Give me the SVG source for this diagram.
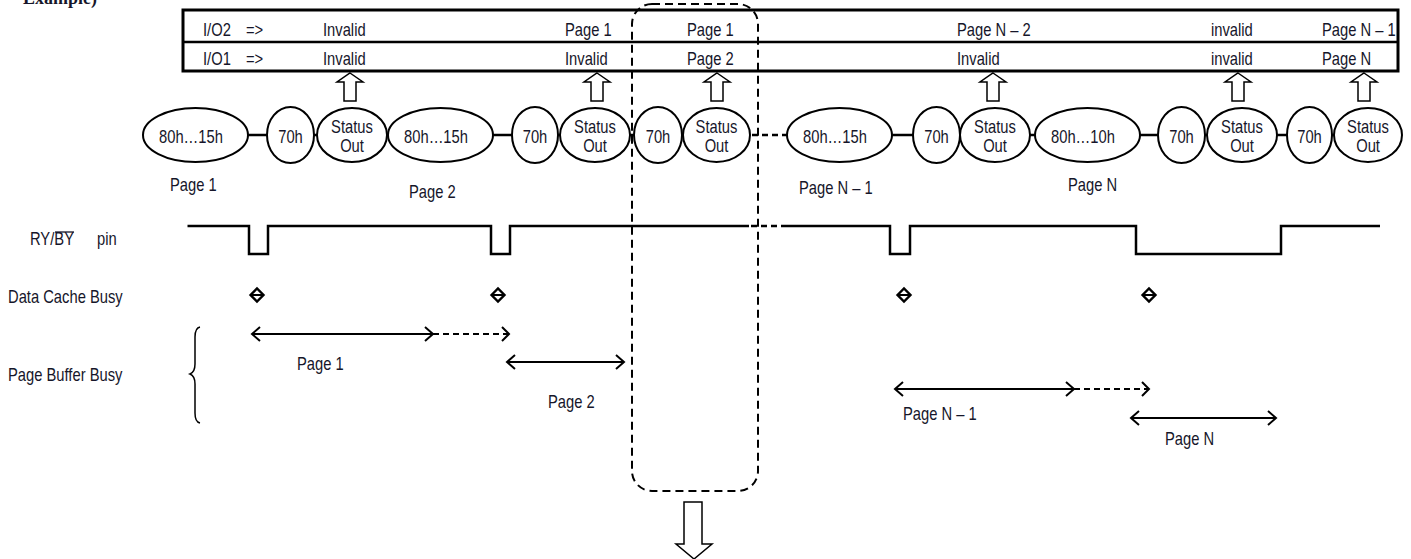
<svg xmlns="http://www.w3.org/2000/svg" width="1411" height="559" viewBox="0 0 1411 559">
<style>
text{font-family:"Liberation Sans",Arial,sans-serif;font-size:18px;fill:#16162a;transform-box:fill-box;transform-origin:0% 50%;transform:scaleX(0.82)}
text.c{text-anchor:middle;transform-origin:50% 50%}
text.ser{font-family:"Liberation Serif",serif;font-weight:bold;transform:none}
.el{fill:#fff;stroke:#000;stroke-width:2}
.ln{fill:none;stroke:#000;stroke-width:2.5}
.dl{fill:none;stroke:#000;stroke-width:2.5;stroke-dasharray:6 4}
.ar{fill:none;stroke:#000;stroke-width:2}
.ad{fill:none;stroke:#000;stroke-width:2;stroke-dasharray:6 4}
.hd{fill:none;stroke:#000;stroke-width:2;stroke-linejoin:miter}
.ha{fill:#fff;stroke:#000;stroke-width:1.5}
.dm{fill:#fff;stroke:#000;stroke-width:2.4}
</style>
<defs>
<path id="upar" d="M0,73 L13,82 L6,82 L6,101 L-6,101 L-6,82 L-13,82 Z" class="ha"/>
<g id="dia"><polygon points="-6.5,0 0,-6.5 6.5,0 0,6.5" class="dm"/><line x1="-6" y1="0" x2="6" y2="0" stroke="#000" stroke-width="2"/></g>
</defs>

<text class="ser" x="23" y="4">Example)</text>

<g id="io-table">
<rect x="183" y="10" width="1215" height="61" fill="none" stroke="#000" stroke-width="3"/>
<line x1="183" y1="42" x2="1398" y2="42" stroke="#000" stroke-width="2.5"/>
<text x="203" y="36">I/O2</text><text x="246" y="36">=&gt;</text>
<text x="323" y="36">Invalid</text><text x="565" y="36">Page 1</text><text x="687" y="36">Page 1</text>
<text x="957" y="36">Page N – 2</text><text x="1211" y="36">invalid</text><text x="1322" y="36">Page N – 1</text>
<text x="203" y="65">I/O1</text><text x="246" y="65">=&gt;</text>
<text x="323" y="65">Invalid</text><text x="565" y="65">Invalid</text><text x="687" y="65">Page 2</text>
<text x="957" y="65">Invalid</text><text x="1211" y="65">invalid</text><text x="1322" y="65">Page N</text>
</g>

<g id="connectors">
<line x1="248" y1="135" x2="750" y2="135" class="ln"/>
<line x1="752" y1="135" x2="787" y2="135" class="dl"/>
<line x1="892" y1="135" x2="1334" y2="135" class="ln"/>
<use href="#upar" x="350"/><use href="#upar" x="597"/><use href="#upar" x="717"/>
<use href="#upar" x="993"/><use href="#upar" x="1238"/><use href="#upar" x="1364"/>
</g>

<g id="n1"><ellipse cx="195.5" cy="135" rx="52.5" ry="27" class="el"/><text x="191" y="143" class="c">80h…15h</text></g>
<g id="n2"><ellipse cx="290.5" cy="135" rx="23.5" ry="28" class="el"/><text x="290.5" y="143" class="c">70h</text></g>
<g id="n3"><ellipse cx="352" cy="135" rx="35" ry="27" class="el"/><text x="352" y="133" class="c">Status</text><text x="352" y="152" class="c">Out</text></g>
<g id="n4"><ellipse cx="440.5" cy="135" rx="52.5" ry="27" class="el"/><text x="436" y="143" class="c">80h…15h</text></g>
<g id="n5"><ellipse cx="535" cy="135" rx="23" ry="28" class="el"/><text x="535" y="143" class="c">70h</text></g>
<g id="n6"><ellipse cx="595" cy="135" rx="35" ry="27" class="el"/><text x="595" y="133" class="c">Status</text><text x="595" y="152" class="c">Out</text></g>
<g id="n7"><ellipse cx="658" cy="135" rx="24" ry="28" class="el"/><text x="658" y="143" class="c">70h</text></g>
<g id="n8"><ellipse cx="716.5" cy="135" rx="33.5" ry="27" class="el"/><text x="716.5" y="133" class="c">Status</text><text x="716.5" y="152" class="c">Out</text></g>
<g id="n9"><ellipse cx="839.5" cy="135" rx="52.5" ry="27" class="el"/><text x="835" y="143" class="c">80h…15h</text></g>
<g id="n10"><ellipse cx="936.5" cy="135" rx="23.5" ry="28" class="el"/><text x="936.5" y="143" class="c">70h</text></g>
<g id="n11"><ellipse cx="995" cy="135" rx="35" ry="27" class="el"/><text x="995" y="133" class="c">Status</text><text x="995" y="152" class="c">Out</text></g>
<g id="n12"><ellipse cx="1087.5" cy="135" rx="52.5" ry="27" class="el"/><text x="1083" y="143" class="c">80h…10h</text></g>
<g id="n13"><ellipse cx="1181.5" cy="135" rx="23.5" ry="28" class="el"/><text x="1181.5" y="143" class="c">70h</text></g>
<g id="n14"><ellipse cx="1242" cy="135" rx="35" ry="27" class="el"/><text x="1242" y="133" class="c">Status</text><text x="1242" y="152" class="c">Out</text></g>
<g id="n15"><ellipse cx="1309.5" cy="135" rx="22.5" ry="28" class="el"/><text x="1309.5" y="143" class="c">70h</text></g>
<g id="n16"><ellipse cx="1368" cy="135" rx="34" ry="27" class="el"/><text x="1368" y="133" class="c">Status</text><text x="1368" y="152" class="c">Out</text></g>

<g id="page-labels">
<text x="170" y="191">Page 1</text>
<text x="409" y="198">Page 2</text>
<text x="799" y="194">Page N – 1</text>
<text x="1068" y="191">Page N</text>
</g>

<g id="ryby">
<text x="30" y="245">RY/BY</text>
<line x1="55" y1="232" x2="74" y2="232" stroke="#16162a" stroke-width="1.3"/>
<text x="97" y="245">pin</text>
<path d="M187.5,226 H249 V254 H268 V226 H491 V254 H510 V226 H749" class="ln"/>
<line x1="751" y1="226" x2="782" y2="226" class="dl"/>
<path d="M782,226 H890 V254 H910 V226 H1136 V254 H1281 V226 H1380" class="ln"/>
</g>

<g id="data-cache">
<text x="8" y="303">Data Cache Busy</text>
<use href="#dia" x="257" y="295"/><use href="#dia" x="498" y="295"/>
<use href="#dia" x="904" y="295"/><use href="#dia" x="1149" y="295"/>
</g>

<g id="page-buffer">
<text x="8" y="381">Page Buffer Busy</text>
<path d="M200,327 Q195,328 195,337 V364 Q195,372 190,374 Q195,376 195,384 V413 Q195,422 200,423" fill="none" stroke="#000" stroke-width="1.5"/>
<line x1="252" y1="334" x2="433" y2="334" class="ar"/>
<path d="M260,327 L252,334 L260,341" class="hd"/>
<path d="M425,327 L433,334 L425,341" class="hd"/>
<line x1="433" y1="334" x2="508" y2="334" class="ad"/>
<path d="M502,327 L509,334 L502,341" class="hd"/>
<text x="297" y="370">Page 1</text>
<line x1="507" y1="362" x2="624" y2="362" class="ar"/>
<path d="M515,355 L507,362 L515,369" class="hd"/>
<path d="M616,355 L624,362 L616,369" class="hd"/>
<text x="548" y="408">Page 2</text>
<line x1="895" y1="389" x2="1074" y2="389" class="ar"/>
<path d="M903,382 L895,389 L903,396" class="hd"/>
<path d="M1066,382 L1074,389 L1066,396" class="hd"/>
<line x1="1074" y1="389" x2="1148" y2="389" class="ad"/>
<path d="M1142,382 L1149,389 L1142,396" class="hd"/>
<text x="903" y="420">Page N – 1</text>
<line x1="1131" y1="418" x2="1276" y2="418" class="ar"/>
<path d="M1139,411 L1131,418 L1139,425" class="hd"/>
<path d="M1268,411 L1276,418 L1268,425" class="hd"/>
<text x="1165" y="445">Page N</text>
</g>

<g id="focus">
<rect x="632" y="4" width="126" height="487" rx="20" fill="none" stroke="#000" stroke-width="2" stroke-dasharray="8 5"/>
<path d="M684,502 L702,502 L702,544 L712,544 L694,559 L676,544 L684,544 Z" class="ha"/>
</g>
</svg>
